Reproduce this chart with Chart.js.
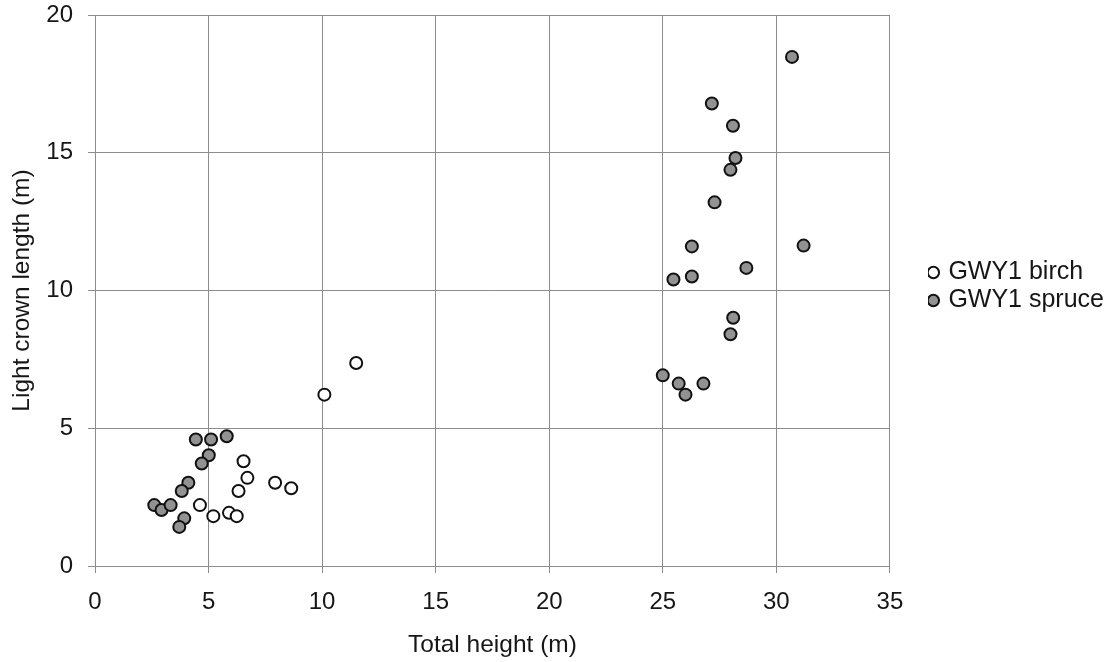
<!DOCTYPE html>
<html>
<head>
<meta charset="utf-8">
<script src="https://cdn.jsdelivr.net/npm/chart.js@4.4.1/dist/chart.umd.min.js"></script>
<style>
  html, body { margin: 0; padding: 0; background: #ffffff; }
  #wrap { width: 1108px; height: 662px; }
</style>
</head>
<body>
<div id="wrap"><canvas id="c" width="1108" height="662"></canvas></div>
<script>
// Total height (m) and light crown length (m) per tree
const birchHeight = [10.1, 11.5, 6.54, 6.71, 6.32, 7.93, 8.64, 4.62, 5.21, 5.9, 6.24];
const birchCrown  = [6.22, 7.37, 3.8, 3.2, 2.72, 3.02, 2.82, 2.21, 1.81, 1.93, 1.81];

const spruceHeight = [4.44, 5.11, 5.8, 5.01, 4.7, 4.11, 3.82, 2.61, 2.93, 3.33, 3.93, 3.71,
                      30.69, 27.16, 28.09, 28.2, 27.98, 27.28, 26.28, 31.2,
                      25.47, 26.28, 28.68, 28.1, 27.98, 25.0, 25.7, 26.0, 26.79];
const spruceCrown  = [4.59, 4.59, 4.71, 4.02, 3.72, 3.02, 2.72, 2.21, 2.03, 2.21, 1.73, 1.42,
                      18.48, 16.79, 15.98, 14.81, 14.38, 13.2, 11.6, 11.63,
                      10.4, 10.51, 10.82, 9.01, 8.41, 6.92, 6.62, 6.22, 6.62];

const xTicks = [0, 5, 10, 15, 20, 25, 30, 35];
const yTicks = [0, 5, 10, 15, 20];

const toPoints = (xs, ys) => xs.map((x, i) => ({ x: x, y: ys[i] }));

const FONT = "'Liberation Sans', Arial, Helvetica, sans-serif";
const TEXT = '#161616';
const GRID = '#8c8c8c';

// Nudge the legend block away from the plot edge
const legendOffset = {
  id: 'legendOffset',
  afterLayout(chart) {
    const l = chart.legend;
    if (!l) return;
    l.left += 38; l.right += 38;
    l.top -= 4; l.bottom -= 4;
  }
};

new Chart(document.getElementById('c'), {
  type: 'scatter',
  data: {
    datasets: [
      {
        label: 'GWY1 birch',
        data: toPoints(birchHeight, birchCrown),
        backgroundColor: '#ffffff',
        borderColor: '#111111',
        borderWidth: 2,
        pointRadius: 6,
        pointHoverRadius: 6
      },
      {
        label: 'GWY1 spruce',
        data: toPoints(spruceHeight, spruceCrown),
        backgroundColor: '#929292',
        borderColor: '#111111',
        borderWidth: 2,
        pointRadius: 6,
        pointHoverRadius: 6
      }
    ]
  },
  plugins: [legendOffset],
  options: {
    responsive: false,
    animation: false,
    events: [],
    layout: { padding: { top: 15, right: 32, bottom: 0, left: 0 } },
    plugins: {
      tooltip: { enabled: false },
      legend: {
        position: 'right',
        align: 'center',
        fullSize: false,
        labels: {
          usePointStyle: true,
          pointStyle: 'circle',
          boxWidth: 5,
          boxHeight: 8,
          padding: 3,
          color: TEXT,
          font: { family: FONT, size: 25 }
        }
      }
    },
    scales: {
      x: {
        type: 'linear',
        min: 0,
        max: 35,
        afterBuildTicks: (s) => { s.ticks = xTicks.map(v => ({ value: v })); },
        afterFit: (s) => { s.height = 96; },
        grid: { color: GRID, lineWidth: 1, drawTicks: true, tickLength: 7, tickColor: GRID },
        border: { color: GRID, width: 1 },
        ticks: { color: TEXT, padding: 15, font: { family: FONT, size: 24 } },
        title: {
          display: true,
          text: 'Total height (m)',
          color: TEXT,
          font: { family: FONT, size: 24.5 },
          padding: { top: 2, bottom: 2 }
        }
      },
      y: {
        type: 'linear',
        min: 0,
        max: 20,
        afterBuildTicks: (s) => { s.ticks = yTicks.map(v => ({ value: v })); },
        afterFit: (s) => { s.width = 95; s.paddingTop = 0; s.paddingBottom = 0; },
        grid: { color: GRID, lineWidth: 1, drawTicks: true, tickLength: 7, tickColor: GRID },
        border: { color: GRID, width: 1 },
        ticks: { color: TEXT, padding: 15, font: { family: FONT, size: 24 } },
        title: {
          display: true,
          text: 'Light crown length (m)',
          color: TEXT,
          font: { family: FONT, size: 24.5 },
          padding: { top: 8, bottom: 2 }
        }
      }
    }
  }
});
</script>
</body>
</html>
